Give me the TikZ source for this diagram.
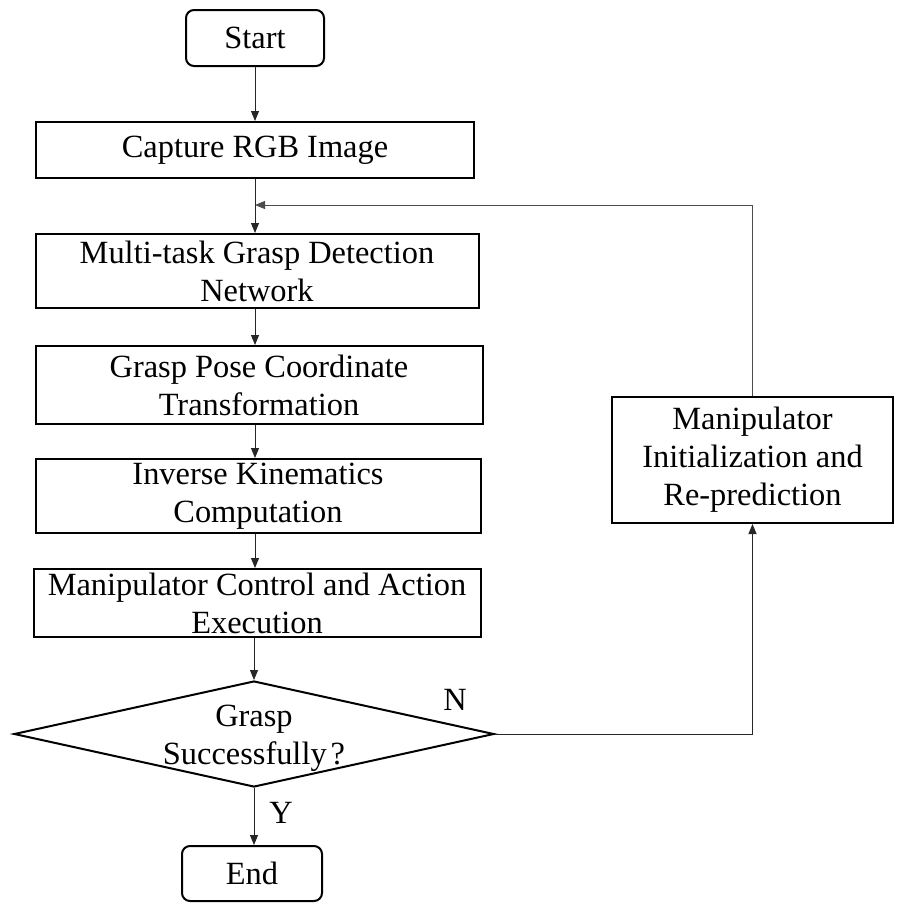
\documentclass[tikz,border=0pt]{standalone}
\usepackage{fontspec}
\setmainfont{Liberation Serif}
\usetikzlibrary{positioning,shapes.geometric,arrows.meta}

\begin{document}
\begin{tikzpicture}
		[x=0.5pt, y=-0.5pt,
		 every node/.style={font=\fontsize{16.2}{19}\selectfont},
		 stepbox/.style={draw, line width=1pt, align=center, inner sep=0pt},
		 terminal/.style={stepbox, rounded corners=4pt},
		 decision/.style={draw, diamond, line width=1pt, inner sep=0pt,
			minimum width=240pt, minimum height=53pt},
		 flow/.style={-{Triangle[length=5pt, width=4pt]}, line width=0.5pt, black!85}]
		\useasboundingbox (0,0) rectangle (902,911);

		% main column
		\node[terminal, minimum width=69pt, minimum height=28pt] (start) at (255,38) {Start};
		\node[stepbox, minimum width=219pt, minimum height=28pt] (capture) at (255,150) {Capture RGB Image};
		\node[stepbox, minimum width=221.5pt, minimum height=37pt] (detect) at (257,271)
			{Multi-task Grasp Detection\\Network};
		\node[stepbox, minimum width=223.5pt, minimum height=39pt] (pose) at (259,385)
			{Grasp Pose Coordinate\\Transformation};
		\node[stepbox, minimum width=222.5pt, minimum height=37pt] (ik) at (258,496)
			{Inverse Kinematics\\Computation};
		\node[stepbox, minimum width=223.5pt, minimum height=34pt] (control) at (257,603)
			{Manipulator Control and Action\\Execution};
		\node[decision] (check) at (254,734) {};
		\node[align=center] (checktext) at (254,738) {Grasp\\Successfully\kern2pt?};
		\node[terminal, minimum width=70pt, minimum height=27.5pt] (end) at (252,873.5) {End};

		% retry branch
		\node[stepbox, minimum width=140.5pt, minimum height=63pt] (reinit) at (752.5,460)
			{Manipulator\\Initialization and\\Re-prediction};
		\coordinate (spine) at (255,0);
		\coordinate (loopin) at (spine |- 0,205);

		\draw[flow] (start.south -| spine) -- (capture.north -| spine);
		\draw[flow] (capture.south -| spine) -- (detect.north -| spine);
		\draw[flow] (detect.south -| spine) -- (pose.north -| spine);
		\draw[flow] (pose.south -| spine) -- (ik.north -| spine);
		\draw[flow] (ik.south -| spine) -- (control.north -| spine);
		\draw[flow] (control.south -| check.north) -- (check.north);
		\draw[flow] (check.south) -- (end.north -| check.south);
		\draw[flow] (check.east) -| (reinit.south);
		\draw[flow, black!70] (reinit.north) |- (loopin);

		\node (yes) at (281,813) {Y};
		\node (no) at (455,700) {N};
	\end{tikzpicture}
\end{document}
